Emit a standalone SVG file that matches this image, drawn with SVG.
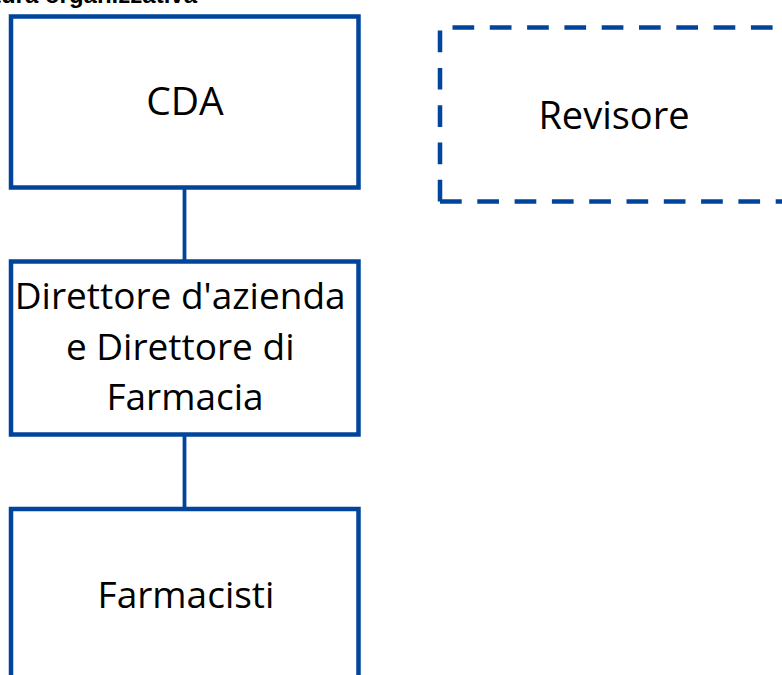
<svg xmlns="http://www.w3.org/2000/svg" width="782" height="675" viewBox="0 0 782 675">
  <style>
    .box { fill: #ffffff; stroke: #00459B; stroke-width: 4.5; }
    .dash { fill: #ffffff; stroke: #00459B; stroke-width: 4.5; stroke-dasharray: 21.7 15.6; }
    .lbl { font-family: "Open Sans", "Noto Sans", sans-serif; fill: #000000; text-anchor: middle; }
    .conn { stroke: #00459B; stroke-width: 3.8; fill: none; }
    .title { font-family: "Liberation Sans", Arial, sans-serif; font-weight: bold; font-size: 24px; fill: #000000; }
  </style>
  <rect width="782" height="675" fill="#ffffff"/>
  <text class="title" x="197" y="3" text-anchor="end">Struttura organizzativa</text>
  <g id="connectors">
    <line class="conn" x1="184.5" y1="189" x2="184.5" y2="260"/>
    <line class="conn" x1="184.5" y1="436" x2="184.5" y2="507"/>
  </g>
  <g id="node-cda">
    <rect class="box" x="11" y="16.5" width="347.5" height="171"/>
    <text class="lbl" x="185" y="115" font-size="39">CDA</text>
  </g>
  <g id="node-revisore">
    <path class="dash" d="M440,201.5 L440,27.5 L800,27.5 M440,201.5 L800,201.5"/>
    <text class="lbl" x="614" y="129" font-size="38">Revisore</text>
  </g>
  <g id="node-direttore">
    <rect class="box" x="11" y="261.5" width="347.5" height="173"/>
    <text class="lbl" font-size="37">
      <tspan x="185" y="309">Direttore d'azienda</tspan>
      <tspan x="185" y="360">e Direttore di</tspan>
      <tspan x="185" y="410">Farmacia</tspan>
    </text>
  </g>
  <g id="node-farmacisti">
    <rect class="box" x="11" y="509" width="347.5" height="173"/>
    <text class="lbl" x="186" y="608" font-size="37">Farmacisti</text>
  </g>
</svg>
